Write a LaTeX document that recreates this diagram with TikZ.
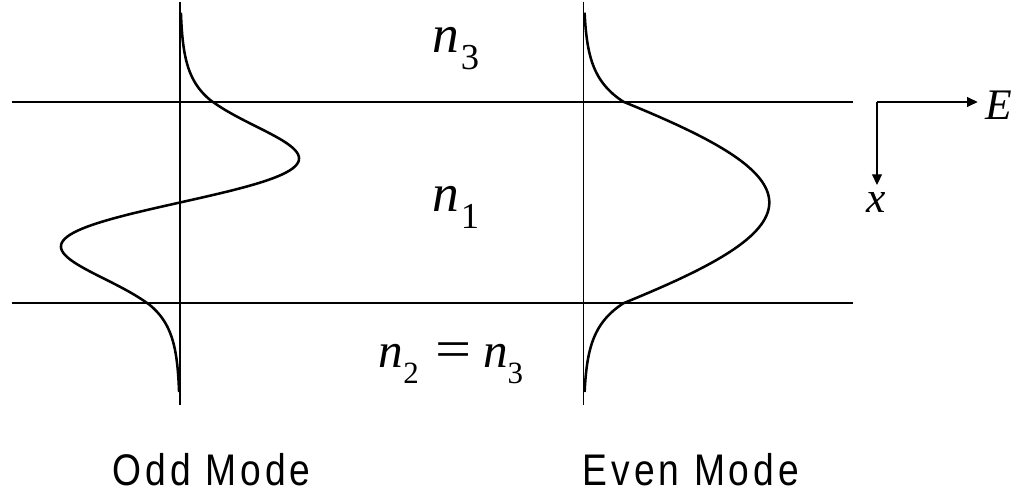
\documentclass[tikz,border=0pt]{standalone}
\usepackage{graphicx}
\usepackage{fontspec}
\setmainfont{Liberation Serif}
\newfontfamily\idxfont{Liberation Serif}[ItalicFont=Liberation Serif Italic]
\newfontfamily\modefont[FakeStretch=0.84,LetterSpace=9]{Liberation Sans}
\usetikzlibrary{arrows.meta}
\tikzset{
  bnd/.style={draw=black,line width=1.4pt},
  ax/.style={draw=black,line width=.8pt},
  mode/.style={draw=black,line width=1.8pt,line join=round},
  dir/.style={-{Triangle[length=7.5pt,width=7pt]},line width=.8pt,draw=black},
  idx/.style={font=\fontsize{38}{42}\idxfont,inner sep=0pt,anchor=base},
  idxb/.style={font=\fontsize{35}{40}\idxfont,inner sep=0pt,anchor=base},
  vec/.style={font=\fontsize{31}{36}\idxfont\itshape,inner sep=5.5pt,anchor=base},
  mlbl/.style={font=\fontsize{31.5}{36}\modefont,inner sep=0pt,anchor=base},
}
\newcommand{\ridx}[5]{\textit{#1}\kern#3\raisebox{-#5}{\fontsize{#4}{#4}\selectfont #2}}

\begin{document}
\begin{tikzpicture}[x=0.025cm,y=-0.025cm]
\useasboundingbox (0,0) rectangle (1032,498);
% ---- guide boundaries and mode axes
\coordinate (tl) at (11.7,101.7); \coordinate (tr) at (852.7,101.7);
\coordinate (bl) at (11.7,303.3); \coordinate (br) at (852.7,303.3);
\coordinate (oddtop) at (180,1.7); \coordinate (oddbot) at (180,405);
\coordinate (evntop) at (583.3,1.7); \coordinate (evnbot) at (583.3,405);
\draw[bnd] (tl)--(tr) (bl)--(br);
\draw[ax] (oddtop)--(oddbot) (evntop)--(evnbot);
% ---- odd mode field
\draw[mode] plot[domain=12.7:101.7,samples=45,smooth] ({180+32.3*exp(-0.04*(101.7-\x))},\x)
  -- plot[domain=101.7:303.3,samples=101,smooth] ({180-4.46*(\x-202.5)*exp(-(\x-202.5)*(\x-202.5)/3872)},\x)
  -- plot[domain=303.3:392,samples=45,smooth] ({180-32.3*exp(-0.04*(\x-303.3))},\x);
% ---- even mode field
\draw[mode] plot[domain=12.7:101.7,samples=45,smooth] ({583.3+40*exp(-0.0385*(101.7-\x))},\x)
  -- plot[domain=101.7:303.3,samples=101,smooth] ({583.3+186*cos(0.7697*(\x-202.5))},\x)
  -- plot[domain=303.3:392,samples=45,smooth] ({583.3+40*exp(-0.0385*(\x-303.3))},\x);
% ---- indices
\node[idx] (n3) at (456,53) {\ridx{n}{3}{1pt}{26}{12pt}};
\node[idx] (n1) at (456,212) {\ridx{n}{1}{1pt}{26}{12pt}};
\node[idxb] (n23) at (451,367)
  {\ridx{n}{2}{0pt}{22}{11.4pt}\hspace{12pt}\scalebox{1.3}[1.1]{=}\hspace{8pt}\ridx{n}{3}{0pt}{22}{11.4pt}};
% ---- field and direction
\coordinate (o) at (877,102);
\node[vec] (E) at (999,120) {E};
\node[vec] (x) at (876.5,213) {x};
\draw[dir] (o) -- (o -| E.west);
\draw[dir] (o) -- (o |- x.north);
% ---- captions
\node[mlbl] (odd) at (211.7,485) {Odd Mode};
\node[mlbl] (even) at (691,485) {Even Mode};
\end{tikzpicture}
\end{document}
